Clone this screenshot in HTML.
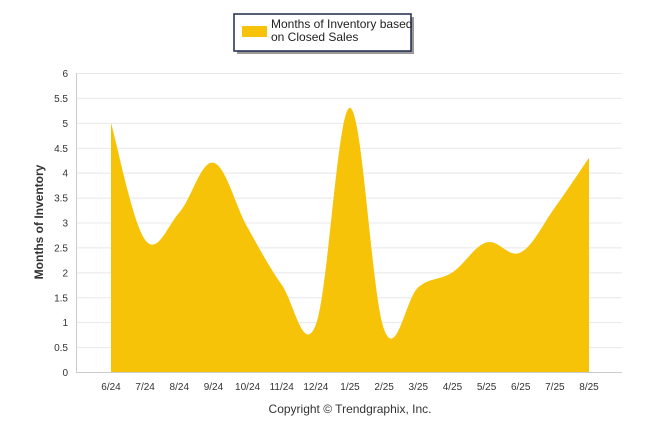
<!DOCTYPE html>
<html><head><meta charset="utf-8"><style>
body{margin:0;background:#fff;font-family:"Liberation Sans",sans-serif;}
svg{display:block}
</style></head><body>
<svg width="646" height="434">
<g id="grid"></g>
<g id="yt"></g>
<g id="xt"></g>
<path id="area" fill="#f7c308"/>
<text x="43" y="222" transform="rotate(-90 43 222)" text-anchor="middle" font-size="12" font-weight="bold" fill="#333">Months of Inventory</text>
<text x="350" y="413" text-anchor="middle" font-size="12" fill="#333">Copyright © Trendgraphix, Inc.</text>
<g>
<rect x="237" y="17" width="177" height="37" fill="#999"/>
<rect x="234" y="14" width="177" height="37" fill="#fff" stroke="#1f2b4f" stroke-width="1.5"/>
<rect x="242" y="26" width="25" height="11" fill="#f7c308"/>
<text x="271" y="28" font-size="12" fill="#222">Months of Inventory based</text>
<text x="271" y="41" font-size="12" fill="#222">on Closed Sales</text>
</g>
</svg>
<script>
const categories=["6/24","7/24","8/24","9/24","10/24","11/24","12/24","1/25","2/25","3/25","4/25","5/25","6/25","7/25","8/25"];
const values=[5.0,2.65,3.2,4.2,2.9,1.75,0.95,5.3,0.85,1.7,2.0,2.6,2.4,3.3,4.3];
const yTicks=[0,0.5,1,1.5,2,2.5,3,3.5,4,4.5,5,5.5,6];
const NS="http://www.w3.org/2000/svg";
const y=v=>372-v*(299/6);
const x=i=>111+i*(478/(categories.length-1));
function mk(t,a,p){const e=document.createElementNS(NS,t);for(const k in a)e.setAttribute(k,a[k]);p.appendChild(e);return e;}
const grid=document.getElementById('grid'),yt=document.getElementById('yt'),xt=document.getElementById('xt');
yTicks.forEach(v=>{
 const l=mk('line',{x1:76,x2:622,y1:y(v)+.5,y2:y(v)+.5,stroke:v==0?'#ccc':'#e8e8e8'},grid);
 
 
 const t=mk('text',{x:68,y:y(v)+4,'text-anchor':'end','font-size':10,fill:'#333'},yt);
 t.textContent=v;
 
 
});
mk('line',{x1:76.5,x2:76.5,y1:73,y2:372,stroke:'#ccc'},grid);
categories.forEach((c,i)=>{
 const t=mk('text',{x:x(i),y:390,'text-anchor':'middle','font-size':10,fill:'#333'},xt);
 t.textContent=c;
 
 
});
const pts=values.map((v,i)=>[x(i),y(v)]);
let d=`M${pts[0][0]},${y(0)} L${pts[0][0]},${pts[0][1]}`;
for(let i=0;i<pts.length-1;i++){
 const p0=pts[Math.max(0,i-1)],p1=pts[i],p2=pts[i+1],p3=pts[Math.min(pts.length-1,i+2)];
 const t=0.18;
 const c1=[p1[0]+(p2[0]-p0[0])*t,p1[1]+(p2[1]-p0[1])*t];
 const c2=[p2[0]-(p3[0]-p1[0])*t,p2[1]-(p3[1]-p1[1])*t];
 d+=` C${c1[0]},${c1[1]} ${c2[0]},${c2[1]} ${p2[0]},${p2[1]}`;
}
d+=` L${pts[pts.length-1][0]},${y(0)} Z`;
document.getElementById('area').setAttribute('d',d);
</script>
</body></html>
